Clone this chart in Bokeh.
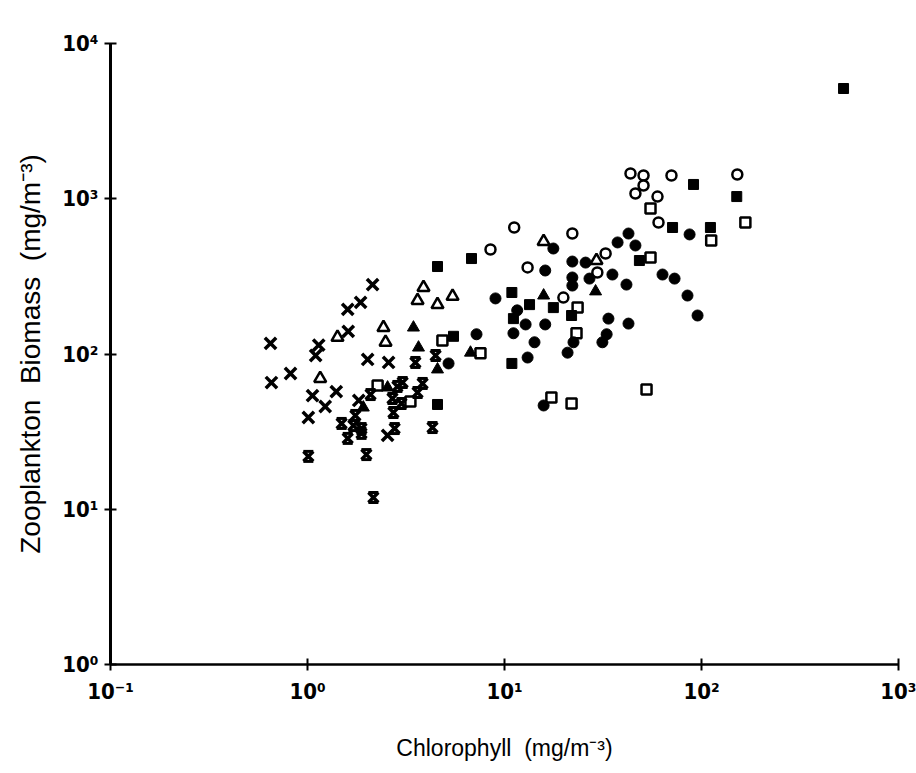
from bokeh.plotting import figure
from bokeh.models import FixedTicker
from bokeh.embed import file_html
from bokeh.resources import INLINE

# ---------------- data ----------------
x_ticks = [0.1, 1, 10, 100, 1000]
y_ticks = [1, 10, 100, 1000, 10000]
x_tick_labels = ["10⁻¹", "10⁰", "10¹", "10²", "10³"]
y_tick_labels = ["10⁰", "10¹", "10²", "10³", "10⁴"]
x_title = "Chlorophyll\u00a0 (mg/m⁻³)"
y_title = "Zooplankton\u00a0 Biomass\u00a0 (mg/m⁻³)"

# crosses (x)
cross_x = [0.649, 0.656, 0.820, 1.01, 1.06, 1.10, 1.14, 1.23, 1.40, 1.60, 1.61,
           1.82, 1.86, 2.02, 2.14, 2.55, 2.58]
cross_y = [117, 65.5, 74.9, 39.0, 54.0, 97.8, 114, 45.9, 57.3, 194, 140,
           50.2, 215, 92.2, 280, 29.9, 88.2]

# barred crosses (hourglass)
hg_x = [1.01, 1.49, 1.60, 1.71, 1.75, 1.88, 1.88, 1.99, 2.09, 2.16, 2.70,
        2.73, 2.77, 2.86, 3.00, 3.04, 3.62, 3.84, 3.53, 4.47, 4.31]
hg_y = [21.9, 35.7, 28.6, 34.6, 40.2, 33.1, 30.8, 22.5, 54.8, 11.9, 51.7,
        42.0, 33.1, 61.8, 48.0, 65.5, 56.5, 64.6, 88.2, 97.8, 33.6]

# open triangles
tri_open_x = [1.16, 1.42, 2.43, 2.49, 3.88, 3.62, 4.57, 5.45, 15.8, 29.3]
tri_open_y = [69.5, 128, 148, 119, 268, 221, 208, 235, 531, 400]

# filled triangles
tri_x = [1.92, 2.55, 3.45, 3.66, 4.57, 6.72, 15.8, 29.0]
tri_y = [45.2, 60.8, 148, 110, 79.5, 102, 238, 253]

# filled squares
sq_x = [4.57, 6.80, 5.51, 4.57, 10.9, 10.9, 13.4, 17.7, 11.1, 21.9, 48.4,
        71.3, 91.1, 111, 151, 526]
sq_y = [366, 412, 130, 47.3, 86.9, 249, 208, 199, 169, 177, 400,
        653, 1236, 653, 1033, 5130]

# open squares
sqo_x = [4.84, 2.27, 3.33, 7.55, 17.3, 21.9, 23.2, 52.6, 55.1, 55.1, 112, 167, 23.5]
sqo_y = [122, 62.7, 49.4, 101, 52.5, 48.0, 136, 59.1, 865, 418, 538, 703, 199]

# filled circles
circ_x = [5.20, 7.21, 9.00, 11.1, 11.6, 12.8, 13.1, 14.2, 15.8, 16.1, 16.1,
          17.7, 20.9, 22.1, 22.1, 22.1, 22.4, 25.8, 27.0, 31.4, 33.0, 33.7,
          35.3, 37.5, 41.6, 42.6, 42.6, 46.2, 63.4, 73.0, 84.9, 87.0, 95.5]
circ_y = [86.9, 134, 228, 136, 191, 155, 94.9, 119, 46.6, 345, 155,
          478, 102, 394, 311, 276, 119, 388, 306, 119, 134, 169,
          325, 523, 280, 597, 157, 500, 325, 306, 238, 589, 177]

# open circles
circo_x = [8.49, 11.2, 13.1, 22.1, 29.6, 32.6, 43.6, 50.8, 50.8, 46.2, 59.8,
           60.5, 70.4, 152, 19.9]
circo_y = [471, 653, 361, 597, 335, 444, 1455, 1412, 1217, 1081, 1033,
           703, 1412, 1433, 231]

# ---------------- figure ----------------
p = figure(frame_width=788, frame_height=621,
           x_axis_type="log", y_axis_type="log",
           x_range=(0.1, 1000), y_range=(1, 10000),
           min_border_left=110, min_border_right=18,
           min_border_top=43, min_border_bottom=109,
           output_backend="svg", toolbar_location=None)
p.grid.visible = False
p.outline_line_color = None
p.background_fill_color = "white"
p.border_fill_color = "white"

TICK_FONT = "DejaVu Sans Condensed"
TITLE_FONT = "Liberation Sans"

for ax, ticks, labels, lw in ((p.xaxis[0], x_ticks, x_tick_labels, 2.5),
                              (p.yaxis[0], y_ticks, y_tick_labels, 3)):
    ax.ticker = FixedTicker(ticks=ticks)
    ax.major_label_overrides = {t: s for t, s in zip(ticks, labels)}
    ax.major_tick_in = 6
    ax.major_tick_out = 6
    ax.major_tick_line_width = 2
    ax.major_tick_line_color = "black"
    ax.minor_tick_line_color = None
    ax.axis_line_width = lw
    ax.axis_line_color = "black"
    ax.major_label_text_font = TICK_FONT
    ax.major_label_text_font_style = "bold"
    ax.major_label_text_font_size = "22px"
    ax.major_label_text_color = "black"
    ax.axis_label_text_font = TITLE_FONT
    ax.axis_label_text_font_style = "normal"
    ax.axis_label_text_color = "black"

p.xaxis[0].axis_label = x_title
p.xaxis[0].axis_label_text_font_size = "23px"
p.xaxis[0].major_label_standoff = 8
p.xaxis[0].axis_label_standoff = 28
p.yaxis[0].axis_label = y_title
p.yaxis[0].axis_label_text_font_size = "28px"
p.yaxis[0].major_label_standoff = 6
p.yaxis[0].axis_label_standoff = 13

# ---------------- markers ----------------
p.scatter(circo_x, circo_y, marker="circle", size=10, fill_color="white",
          line_color="black", line_width=2.5)
p.scatter(sqo_x, sqo_y, marker="square", size=10, fill_color="white",
          line_color="black", line_width=2.5)
p.scatter(tri_open_x, tri_open_y, marker="triangle", size=12, fill_color="white",
          line_color="black", line_width=2.5)
p.scatter(cross_x, cross_y, marker="x", size=16, line_color="black", line_width=3.5)

# barred cross: x plus bars 5 px above and below (constant factor on log axis)
bar = 10 ** (5 / 155.25)
p.scatter(hg_x, hg_y, marker="x", size=14, line_color="black", line_width=3.5)
p.scatter(hg_x, [v * bar for v in hg_y], marker="dash", size=10,
          line_color="black", line_width=3)
p.scatter(hg_x, [v / bar for v in hg_y], marker="dash", size=10,
          line_color="black", line_width=3)

p.scatter(tri_x, tri_y, marker="triangle", size=12, fill_color="black", line_color="black")
p.scatter(sq_x, sq_y, marker="square", size=10, fill_color="black", line_color="black")
p.scatter(circ_x, circ_y, marker="circle", size=11, fill_color="black", line_color="black")

open("out.html", "w").write(file_html(p, INLINE))
